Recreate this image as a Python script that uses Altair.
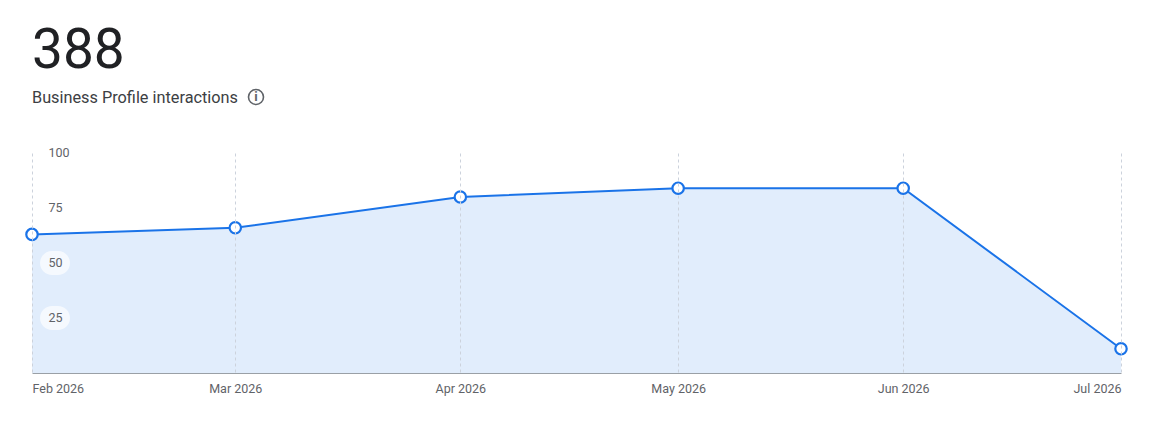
import altair as alt
import pandas as pd

months = ["2026-02-01", "2026-03-01", "2026-04-01", "2026-05-01", "2026-06-01", "2026-07-01"]
interactions = [63, 66, 80, 84, 84, 11]
y_ticks = [25, 50, 75, 100]
pill_ticks = [25, 50]

BLUE = "#1a73e8"
GREY = "#5f6368"
FONT = "Roboto"

df = pd.DataFrame({"month": months, "value": interactions})

x = alt.X(
    "month:T",
    scale=alt.Scale(type="utc", nice=False),
    axis=alt.Axis(
        title=None,
        tickCount={"interval": "month", "step": 1},
        labelExpr="utcFormat(datum.value, '%b %Y')",
        grid=True,
        gridColor="#ccd2dc",
        gridDash=[3, 3],
        gridWidth=1,
        ticks=False,
        domain=True,
        domainColor="#9aa0a6",
        domainWidth=1,
        labelColor=GREY,
        labelFont=FONT,
        labelFontSize=12.5,
        labelPadding=9,
        labelFlush=True,
        labelOverlap=False,
        zindex=1,
    ),
)
y = alt.Y(
    "value:Q",
    scale=alt.Scale(domain=[0, 100], nice=False),
    axis=alt.Axis(
        title=None,
        values=y_ticks,
        grid=False,
        ticks=False,
        domain=False,
        labelAlign="left",
        labelPadding=-16,
        labelOffset=-0.5,
        labelColor=GREY,
        labelFont=FONT,
        labelFontSize=12.5,
        zindex=2,
    ),
)

base = alt.Chart(df)
area = base.mark_area(color=BLUE, opacity=0.13).encode(x=x, y=y)
line = base.mark_line(color=BLUE, strokeWidth=2).encode(x=x, y=y)
points = base.mark_point(
    filled=False, fill="white", fillOpacity=1, stroke=BLUE, strokeWidth=2.2, size=130, opacity=1
).encode(x=x, y=y)

pills = (
    alt.Chart(pd.DataFrame({"value": pill_ticks}))
    .mark_rect(color="white", opacity=0.65, cornerRadius=12, width=30, height=24)
    .encode(x=alt.value(23), y=alt.Y("value:Q"))
)

icon_row = pd.DataFrame({"k": [0]})
icon_ring = (
    alt.Chart(icon_row)
    .mark_point(shape="circle", filled=False, stroke=GREY, strokeWidth=1.6, size=225, opacity=1)
    .encode(x=alt.value(224), y=alt.value(-56))
)
icon_i = (
    alt.Chart(icon_row)
    .mark_text(font=FONT, fontSize=13, fontWeight="bold", color=GREY)
    .encode(x=alt.value(224), y=alt.value(-56), text=alt.value("i"))
)

chart = (
    alt.layer(area, pills, line, points, icon_ring, icon_i)
    .properties(
        width=1089,
        height=220,
        padding={"left": 13, "top": 16, "right": 15, "bottom": 8},
        background="white",
        title=alt.TitleParams(
            text="388",
            subtitle="Business Profile interactions",
            anchor="start",
            frame="group",
            font=FONT,
            fontSize=55,
            fontWeight="normal",
            color="#202124",
            subtitleFont=FONT,
            subtitleFontSize=16.3,
            subtitleColor="#3c4043",
            subtitlePadding=10,
            offset=-21,
        ),
    )
    .configure_view(stroke=None)
)

chart.save("out.html", embed_options={"renderer": "svg", "actions": False})
